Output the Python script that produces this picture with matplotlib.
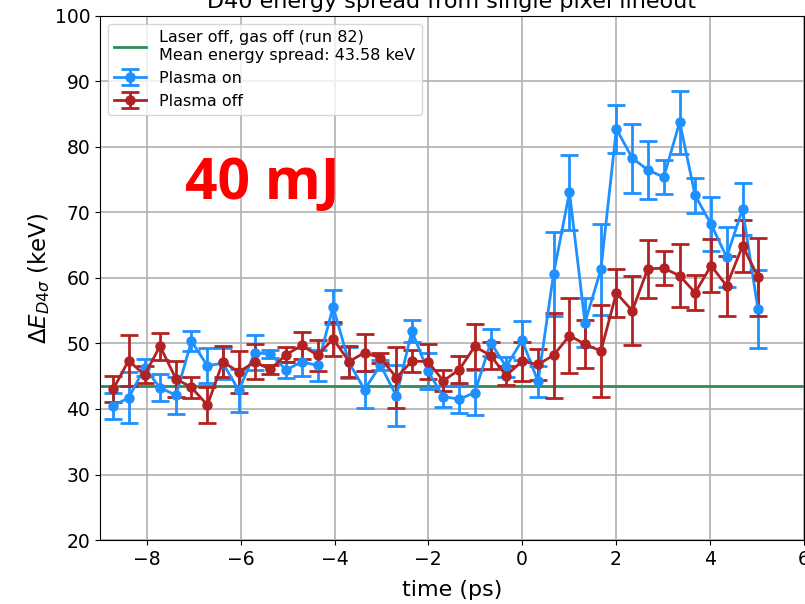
import numpy as np
import matplotlib
matplotlib.use("Agg")
import matplotlib.pyplot as plt

# time delay (ps)
time_ps = [-8.72, -8.39, -8.05, -7.72, -7.38, -7.05, -6.71, -6.38, -6.04, -5.70,
           -5.37, -5.03, -4.70, -4.36, -4.03, -3.69, -3.36, -3.02, -2.68, -2.35,
           -2.01, -1.68, -1.34, -1.01, -0.67, -0.34, 0.00, 0.34, 0.67, 1.01,
           1.34, 1.68, 2.01, 2.35, 2.68, 3.02, 3.36, 3.69, 4.03, 4.36,
           4.70, 5.03]

plasma_on = [40.5, 41.7, 46.3, 43.25, 42.1, 50.35, 46.6, 47.0, 42.85, 48.6,
             48.4, 45.95, 47.2, 46.65, 55.6, 47.1, 42.95, 46.7, 42.0, 51.9,
             45.8, 41.9, 41.5, 42.5, 50.15, 46.45, 50.5, 44.2, 60.6, 73.1,
             53.2, 61.3, 82.75, 78.3, 76.5, 75.4, 83.8, 72.6, 68.2, 63.2,
             70.5, 55.2]

plasma_off = [43.0, 47.4, 45.2, 49.6, 44.6, 43.3, 40.6, 47.2, 45.65, 47.2,
              46.05, 48.3, 49.7, 48.2, 50.7, 47.25, 48.6, 47.8, 44.8, 47.3,
              47.25, 44.3, 46.0, 49.55, 48.15, 45.1, 47.3, 46.8, 48.2, 51.2,
              49.9, 48.85, 57.7, 55.0, 61.4, 61.5, 60.35, 57.75, 61.9, 58.8,
              64.9, 60.2]

err_on = [2.0, 3.9, 1.3, 2.05, 2.8, 1.55, 2.7, 2.35, 3.25, 2.67,
          0.65, 1.2, 2.1, 2.4, 2.55, 2.4, 2.85, 0.8, 4.65, 1.7,
          2.7, 1.6, 2.1, 3.45, 2.1, 1.5, 3.0, 2.3, 6.45, 5.7,
          3.7, 7.0, 3.7, 5.25, 4.4, 2.55, 4.8, 2.7, 4.1, 4.55,
          3.95, 5.95]
err_off = list(err_on)

baseline_mean = 43.58

xticks = [-8, -6, -4, -2, 0, 2, 4, 6]
yticks = [20, 30, 40, 50, 60, 70, 80, 90, 100]

plt.rcParams['font.family'] = ['DejaVu Sans']

fig = plt.figure(figsize=(8.05, 6.04), dpi=100)
ax = fig.add_axes([100 / 805, 64 / 604, 703.5 / 805, 524 / 604])

ax.axhline(baseline_mean, color='#2e8b57', lw=2,
           label='Laser off, gas off (run 82)\nMean energy spread: %.2f keV' % baseline_mean)
ax.errorbar(time_ps, plasma_on, yerr=err_on, color='dodgerblue', lw=2,
            marker='o', ms=6.5, capsize=6.5, capthick=2, elinewidth=2,
            label='Plasma on')
ax.errorbar(time_ps, plasma_off, yerr=err_off, color='firebrick', lw=2,
            marker='o', ms=6.5, capsize=6.5, capthick=2, elinewidth=2,
            label='Plasma off')

ax.set_xlim(-9, 6)
ax.set_ylim(20, 100)
ax.set_xticks(xticks)
ax.set_yticks(yticks)
ax.tick_params(labelsize=13.5)
ax.grid(True, color='#b0b0b0', lw=1.2)
ax.set_axisbelow(True)

ax.set_xlabel('time (ps)', fontsize=16, labelpad=8)
ax.set_ylabel(r'$\Delta E_{D4\sigma}$ (keV)', fontsize=16.5, labelpad=2)
ax.set_title('D40 energy spread from single pixel lineout', fontsize=16, pad=6)

ax.legend(loc='upper left', fontsize=11.5)

ax.text(0.121, 0.650, '40 mJ', transform=ax.transAxes, color='#ff0000',
        fontsize=41, fontweight='bold', family=['Open Sans', 'DejaVu Sans'],
        ha='left', va='baseline')

fig.savefig('out.png', dpi=100)
